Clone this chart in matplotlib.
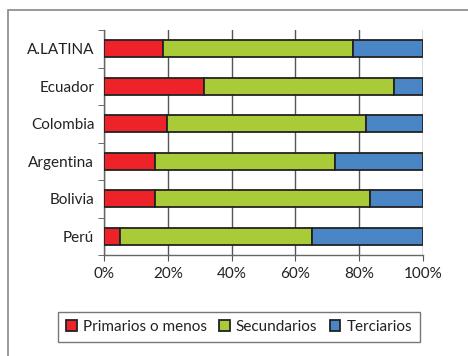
import matplotlib
matplotlib.use("Agg")
import matplotlib.pyplot as plt
from matplotlib.patches import Rectangle
import numpy as np

plt.rcParams['font.family'] = ['Lato', 'DejaVu Sans']

categories = ["Perú", "Bolivia", "Argentina", "Colombia", "Ecuador", "A.LATINA"]
primarios = [5.0, 16.0, 16.0, 19.8, 31.4, 18.4]
secundarios = [60.3, 67.4, 56.4, 62.2, 59.5, 59.7]
terciarios = [34.7, 16.6, 27.6, 18.0, 9.1, 21.9]
series_names = ["Primarios o menos", "Secundarios", "Terciarios"]
colors = ["#EE2229", "#A9CB38", "#4A86C6"]
xticks = [0, 20, 40, 60, 80, 100]

fig = plt.figure(figsize=(4.68, 3.56), dpi=100)
fig.patches.append(Rectangle((8/468, -0.1), 1.2, 1 - 10/356 + 0.1,
                             transform=fig.transFigure, fill=False,
                             edgecolor="#888888", linewidth=1.2))
ax = fig.add_axes([104/468, 1 - 255/356, (423 - 104)/468, (255 - 30)/356])

y = np.arange(len(categories))
left = np.zeros(len(categories))
for vals, name, c in zip([primarios, secundarios, terciarios], series_names, colors):
    ax.barh(y, vals, left=left, height=0.45, color=c, edgecolor="#222222",
            linewidth=1.3, label=name, zorder=3)
    left = left + np.array(vals)

ax.set_xlim(0, 100)
ax.set_ylim(-0.5, len(categories) - 0.5)
ax.set_xticks(xticks)
ax.set_xticklabels([f"{v}%" for v in xticks], fontsize=11, color="#222222")
ax.set_yticks(y)
ax.set_yticklabels(categories, fontsize=11, color="#222222")
ax.tick_params(axis='y', length=0, pad=7)
ax.set_yticks(np.arange(-0.5, len(categories)), minor=True)
ax.tick_params(axis='y', which='minor', length=4, color="#555555", direction='out')
ax.tick_params(axis='x', length=4, color="#555555", direction='out', pad=5)
ax.grid(axis='x', color="#555555", linewidth=1.0, zorder=0)
for s in ['top', 'right']:
    ax.spines[s].set_visible(False)
for s in ['left', 'bottom']:
    ax.spines[s].set_color("#666666")
    ax.spines[s].set_linewidth(1.0)

handles, labels = ax.get_legend_handles_labels()
leg = fig.legend(handles, labels, loc='center', bbox_to_anchor=(239/468, 1 - 327/356),
                 ncol=3, fontsize=11, frameon=True, fancybox=False,
                 handlelength=0.7, handleheight=0.7, handletextpad=0.4,
                 columnspacing=0.8, borderpad=0.5, labelcolor="#222222")
leg.get_frame().set_edgecolor("#555555")
leg.get_frame().set_linewidth(1.0)

fig.savefig("out.png", dpi=100)
